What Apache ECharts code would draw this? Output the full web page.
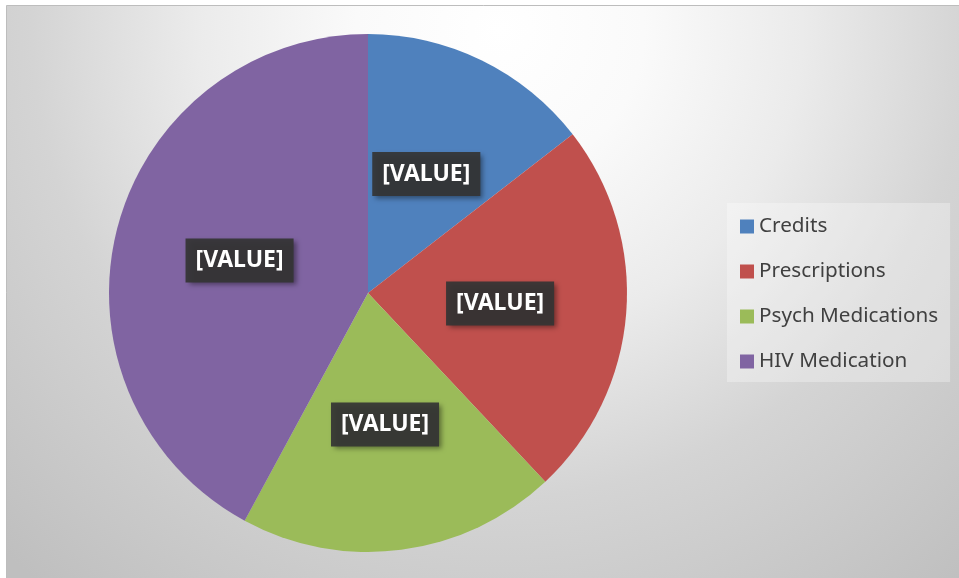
<!DOCTYPE html>
<html>
<head>
<meta charset="utf-8">
<script src="https://cdn.jsdelivr.net/npm/echarts@6/dist/echarts.min.js"></script>
<style>
html,body{margin:0;padding:0;background:#ffffff;}
#chart{width:959px;height:578px;}
</style>
</head>
<body>
<div id="chart"></div>
<script>
const categories = ['Credits', 'Prescriptions', 'Psych Medications', 'HIV Medication'];
const values = [14.5, 23.5, 19.9, 42.1];
const colors = ['#4f81bd', '#c0504d', '#9bbb59', '#8064a2'];
const labelText = '[VALUE]';

const chart = echarts.init(document.getElementById('chart'), null, {renderer: 'canvas'});
chart.setOption({
  animation: false,
  graphic: [{
    type: 'rect',
    z: -10,
    silent: true,
    shape: {x: 6.5, y: 5.5, width: 960, height: 580},
    style: {
      fill: {
        type: 'radial', x: 500, y: 30, r: 720, global: true,
        colorStops: [
          {offset: 0, color: '#ffffff'},
          {offset: 0.2, color: '#fafafa'},
          {offset: 0.42, color: '#ebebeb'},
          {offset: 0.65, color: '#d4d4d4'},
          {offset: 1, color: '#bfbfbf'}
        ]
      },
      stroke: '#bdbdbd',
      lineWidth: 1
    }
  }],
  legend: {
    orient: 'vertical',
    left: 727,
    top: 203,
    padding: [13, 12, 10, 13],
    backgroundColor: 'rgba(255,255,255,0.3)',
    itemWidth: 14,
    itemHeight: 14,
    itemGap: 24,
    icon: 'rect',
    selectedMode: false,
    textStyle: {
      fontFamily: 'Noto Sans',
      fontSize: 20.7,
      lineHeight: 20,
      color: '#404040',
      padding: [0, 0, 0, 0]
    },
    data: categories
  },
  series: [{
    type: 'pie',
    center: [368, 293],
    radius: 259,
    startAngle: 90,
    clockwise: true,
    silent: true,
    avoidLabelOverlap: false,
    itemStyle: {borderWidth: 0},
    label: {
      show: true,
      position: 'inside',
      formatter: () => labelText,
      fontFamily: 'Noto Sans',
      fontWeight: 'bold',
      fontSize: 23,
      lineHeight: 26,
      color: '#ffffff',
      backgroundColor: 'rgba(52,52,52,0.92)',
      padding: [9, 10, 9, 10],
      shadowColor: 'rgba(0,0,0,0.45)',
      shadowBlur: 5,
      shadowOffsetX: 3,
      shadowOffsetY: 3
    },
    labelLine: {show: false},
    data: categories.map((name, i) => ({name, value: values[i], itemStyle: {color: colors[i]}}))
  }]
});
</script>
</body>
</html>
